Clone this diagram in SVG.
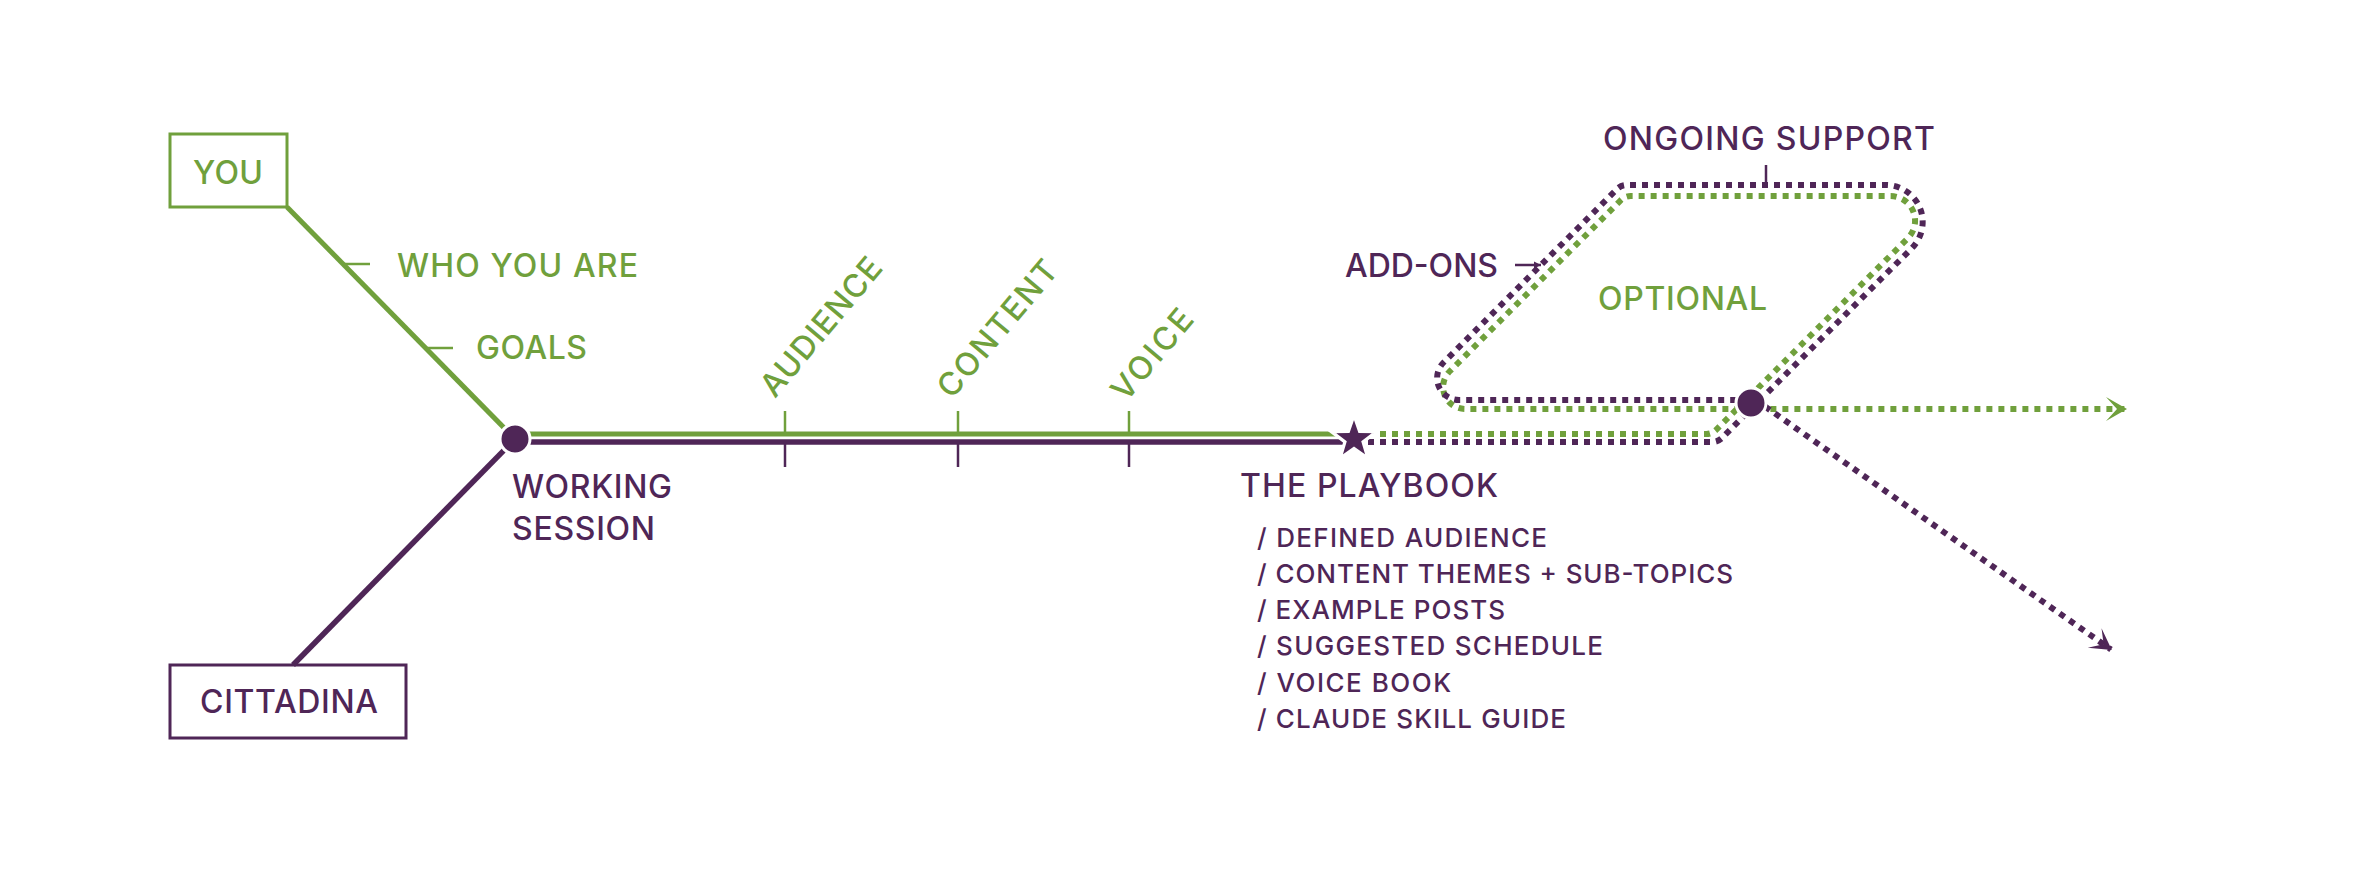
<svg xmlns="http://www.w3.org/2000/svg" width="2376" height="896" viewBox="0 0 2376 896">
<defs>
<style>
.t{font-family:Inter,"Liberation Sans",sans-serif;font-size:32px;font-weight:500}
.g{fill:#70a03c}
.p{fill:#4f2657}
.li{font-family:Inter,"Liberation Sans",sans-serif;font-size:26px;font-weight:500;fill:#4f2657}
.sg{stroke:#70a03c;fill:none}
.sp{stroke:#4f2657;fill:none}
.dot{stroke-width:6;stroke-dasharray:6 6}
.node{fill:#4f2657;stroke:#fff;stroke-width:3}
</style>
<marker id="ag" markerUnits="userSpaceOnUse" viewBox="-24 -14 28 28" markerWidth="28" markerHeight="28" refX="0" refY="0" orient="auto">
<path d="M-20,-12 L1,0 L-20,12 L-9,0 Z" fill="#70a03c"/>
</marker>
<marker id="ap" markerUnits="userSpaceOnUse" viewBox="-24 -14 28 28" markerWidth="28" markerHeight="28" refX="0" refY="0" orient="auto">
<path d="M-20,-12 L1,0 L-20,12 L-9,0 Z" fill="#4f2657"/>
</marker>
<marker id="as" markerUnits="userSpaceOnUse" viewBox="-8 -5 10 10" markerWidth="10" markerHeight="10" refX="0" refY="0" orient="auto">
<path d="M-7,-3.5 L0,0 L-7,3.5 Z" fill="#4f2657"/>
</marker>
</defs>
<rect width="2376" height="896" fill="#fff"/>

<g id="connectors">
<line x1="287" y1="207" x2="515" y2="439" class="sg" stroke-width="5"/>
<line x1="293" y1="665" x2="515" y2="439" class="sp" stroke-width="5.5"/>
<line x1="515" y1="434" x2="1336" y2="434" class="sg" stroke-width="5"/>
<line x1="515" y1="442" x2="1344" y2="442" class="sp" stroke-width="5.5"/>
<g stroke-width="2.5">
<line x1="343" y1="264" x2="370" y2="264" class="sg"/>
<line x1="426" y1="348" x2="453" y2="348" class="sg"/>
<line x1="785" y1="411" x2="785" y2="434" class="sg"/>
<line x1="958" y1="411" x2="958" y2="434" class="sg"/>
<line x1="1129" y1="411" x2="1129" y2="434" class="sg"/>
<line x1="785" y1="442" x2="785" y2="467" class="sp"/>
<line x1="958" y1="442" x2="958" y2="467" class="sp"/>
<line x1="1129" y1="442" x2="1129" y2="467" class="sp"/>
<line x1="1766" y1="165" x2="1766" y2="188" class="sp"/>
<line x1="1515" y1="265" x2="1541" y2="265" class="sp" marker-end="url(#as)"/>
</g>
<path class="sg dot" d="M1380,434 L1706.2,434 A14,14 0 0 0 1716.1,429.9 L1907.8,238.2 A24.7,24.7 0 0 0 1890.3,196 L1630.8,196 A14,14 0 0 0 1620.9,200.1 L1449.5,371.5 A22,22 0 0 0 1465,409 L2126,409" marker-end="url(#ag)"/>
<path class="sp dot" d="M1368,442 L1712.2,442 A14,14 0 0 0 1722.1,437.9 L1912,248 A37,37 0 0 0 1886,185 L1626.8,185 A14,14 0 0 0 1616.9,189.1 L1443.5,362.5 A22,22 0 0 0 1459,400 L1740,400"/>
<path class="sp dot" d="M1765,406.5 L2111,649.5" marker-end="url(#ap)"/>
</g>

<g id="you">
<rect x="170" y="134" width="117" height="73" fill="none" stroke="#70a03c" stroke-width="3"/>
<text class="t g" x="228" y="184" text-anchor="middle" textLength="70" lengthAdjust="spacing">YOU</text>
</g>
<g id="cittadina">
<rect x="170" y="665" width="236" height="73" fill="none" stroke="#4f2657" stroke-width="3"/>
<text class="t p" x="289" y="713" text-anchor="middle" textLength="178" lengthAdjust="spacing">CITTADINA</text>
</g>
<g id="who-you-are"><text class="t g" x="397" y="277" textLength="241" lengthAdjust="spacing">WHO YOU ARE</text></g>
<g id="goals"><text class="t g" x="476" y="359" textLength="111" lengthAdjust="spacing">GOALS</text></g>
<g id="working-session">
<circle cx="515" cy="439" r="15" class="node"/>
<text class="t p" x="512" y="498" textLength="160" lengthAdjust="spacing">WORKING</text>
<text class="t p" x="512" y="540" textLength="143" lengthAdjust="spacing">SESSION</text>
</g>
<g id="audience"><text class="t g" transform="translate(775,399) rotate(-50)" textLength="170" lengthAdjust="spacing">AUDIENCE</text></g>
<g id="content"><text class="t g" transform="translate(952,400) rotate(-50)" textLength="168" lengthAdjust="spacing">CONTENT</text></g>
<g id="voice"><text class="t g" transform="translate(1126,403) rotate(-50)" textLength="108" lengthAdjust="spacing">VOICE</text></g>
<g id="playbook">
<polygon class="node" transform="translate(1354,439) scale(1.08)" points="0,-22 5.2,-7.1 20.9,-6.8 8.4,2.7 12.9,17.8 0,8.8 -12.9,17.8 -8.4,2.7 -20.9,-6.8 -5.2,-7.1"/>
<text class="t p" x="1240" y="497" textLength="258" lengthAdjust="spacing">THE PLAYBOOK</text>
<text class="li" x="1257" y="547" textLength="290" lengthAdjust="spacing">/ DEFINED AUDIENCE</text>
<text class="li" x="1257" y="583" textLength="476" lengthAdjust="spacing">/ CONTENT THEMES + SUB-TOPICS</text>
<text class="li" x="1257" y="619" textLength="248" lengthAdjust="spacing">/ EXAMPLE POSTS</text>
<text class="li" x="1257" y="655" textLength="346" lengthAdjust="spacing">/ SUGGESTED SCHEDULE</text>
<text class="li" x="1257" y="692" textLength="194" lengthAdjust="spacing">/ VOICE BOOK</text>
<text class="li" x="1257" y="728" textLength="309" lengthAdjust="spacing">/ CLAUDE SKILL GUIDE</text>
</g>
<g id="add-ons"><text class="t p" x="1345" y="277" textLength="153" lengthAdjust="spacing">ADD-ONS</text></g>
<g id="optional"><text class="t g" x="1598" y="310" textLength="169" lengthAdjust="spacing">OPTIONAL</text></g>
<g id="ongoing-support"><text class="t p" x="1603" y="150" textLength="332" lengthAdjust="spacing">ONGOING SUPPORT</text></g>
<g id="junction"><circle cx="1751" cy="403" r="15" class="node"/></g>
</svg>
